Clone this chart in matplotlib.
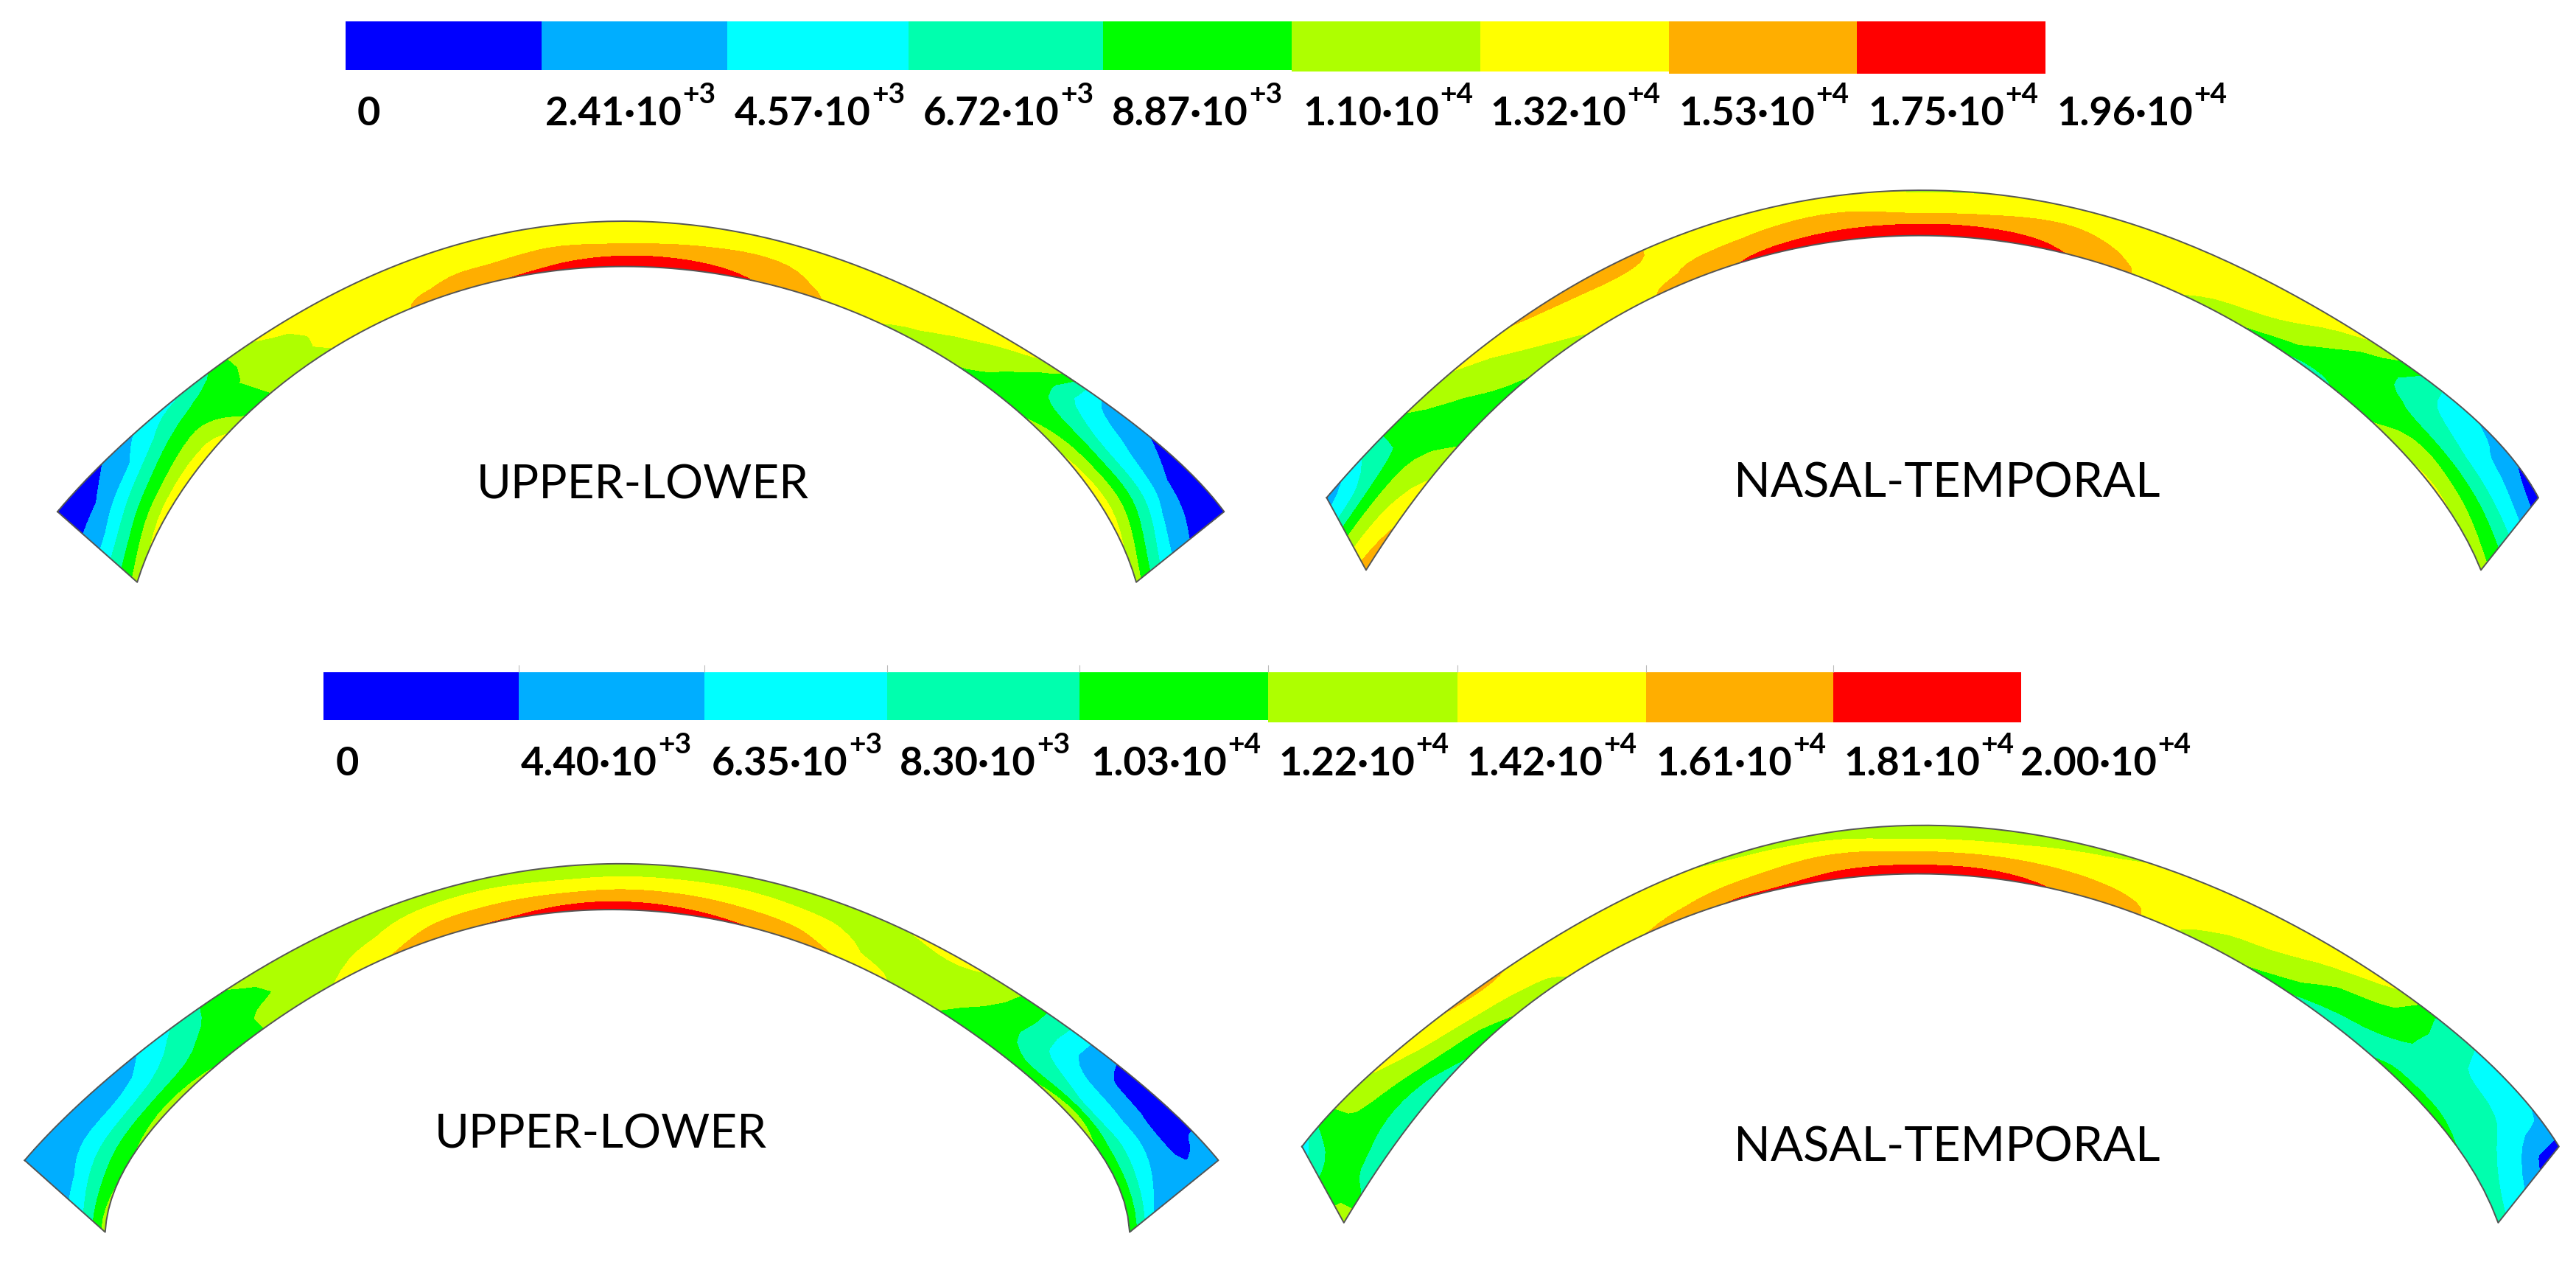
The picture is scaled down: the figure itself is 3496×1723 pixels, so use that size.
import numpy as np
import matplotlib
matplotlib.use('Agg')
import matplotlib.pyplot as plt

plt.rcParams['font.family'] = ['Lato', 'DejaVu Sans']

band_colors = ['#0000FF', '#00AEFF', '#00FFFF', '#00FFAE', '#00FF00',
               '#AEFF00', '#FFFF00', '#FFAE00', '#FF0000']

# stress levels (in thousands) and their labels
top_levels = [0, 2.41, 4.57, 6.72, 8.87, 11.0, 13.2, 15.3, 17.5, 19.6]
bot_levels = [0, 4.40, 6.35, 8.30, 10.3, 12.2, 14.2, 16.1, 18.1, 20.0]
top_mant = ['0', '2.41', '4.57', '6.72', '8.87', '1.10', '1.32', '1.53', '1.75', '1.96']
bot_mant = ['0', '4.40', '6.35', '8.30', '1.03', '1.22', '1.42', '1.61', '1.81', '2.00']
top_exp = ['', '+3', '+3', '+3', '+3', '+4', '+4', '+4', '+4', '+4']
bot_exp = ['', '+3', '+3', '+3', '+4', '+4', '+4', '+4', '+4', '+4']

# colour bar cells and label positions, pixels
top_edges = [469, 735, 987, 1233, 1497, 1753, 2009, 2265, 2520, 2776]
bot_edges = [439, 704, 956, 1204, 1465, 1721, 1978, 2234, 2488, 2743]
top_cell_bottom = [96, 96, 96, 96, 96, 98, 98, 101, 101]
bot_cell_bottom = [978, 978, 978, 978, 978, 981, 981, 981, 981]
top_label_x = [485, 740, 997, 1253, 1509, 1768, 2022, 2278, 2535, 2791]
bot_label_x = [456, 707, 966, 1221, 1480, 1735, 1990, 2247, 2502, 2742]

# shell outlines, stations run left to right
ul1_outer = [(70,1247),(120,1075),(180,900),(235,770),(310,600),(370,480),(430,375),
             (500,290),(560,225),(640,180),(760,145),(860,165),(950,220),(1040,300),
             (1130,430),(1200,555),(1280,690),(1340,820),(1400,960),(1450,1110),(1490,1247)]
ul1_inner = [(167,1515),(205,1250),(262,1000),(305,865),(390,660),(450,540),(520,450),
             (580,395),(640,350),(700,320),(760,312),(830,325),(910,370),(990,430),
             (1070,520),(1130,640),(1190,745),(1250,885),(1300,1060),(1345,1250),(1383,1515)]
ul1_stress = [[1.0, 1.8, 4.0, 8.0, 12.0],
              [2.2, 3.5, 7.0, 10.5, 14.5],
              [5.5, 7.5, 10.0, 12.0, 14.5],
              [7.5, 9.5, 10.5, 10.5, 10.7],
              [13.3, 12.5, 12.5, 12.9, 12.9],
              [14.0, 14.0, 14.0, 14.0, 13.8],
              [14.0, 14.2, 14.5, 15.0, 15.8],
              [14.0, 14.3, 15.0, 15.6, 16.8],
              [13.8, 14.3, 15.0, 16.0, 17.8],
              [13.8, 14.5, 15.4, 17.0, 18.5],
              [13.2, 14.2, 15.3, 17.4, 18.8],
              [13.6, 14.5, 15.5, 17.3, 18.7],
              [13.9, 14.6, 15.6, 16.6, 17.6],
              [14.0, 14.2, 14.6, 15.0, 15.6],
              [15.0, 14.2, 14.0, 13.8, 13.3],
              [14.4, 13.8, 13.1, 12.6, 11.5],
              [12.5, 11.3, 10.9, 10.8, 10.8],
              [4.6, 6.0, 8.0, 10.0, 11.0],
              [2.4, 4.0, 6.2, 10.0, 13.5],
              [1.0, 2.3, 5.5, 10.0, 14.5],
              [0.8, 1.6, 3.0, 7.0, 12.0]]

nt1_outer = [(47,1250),(100,1060),(145,930),(200,770),(270,600),(345,450),(400,350),
             (475,255),(560,170),(650,110),(750,80),(850,100),(960,150),(1060,240),
             (1190,420),(1260,550),(1330,680),(1420,880),(1480,1060),(1505,1170),(1522,1250)]
nt1_inner = [(95,1525),(160,1240),(220,1000),(290,800),(360,640),(420,530),(480,445),
             (550,350),(600,310),(680,270),(755,258),(830,265),(920,305),(1005,370),
             (1100,490),(1160,600),(1230,740),(1290,880),(1350,1050),(1395,1220),(1452,1525)]
nt1_stress = [[3.3, 6.0, 10.5, 14.0, 16.5],
              [7.5, 8.2, 10.5, 12.5, 14.0],
              [11.0, 10.5, 10.2, 10.2, 10.4],
              [13.2, 12.5, 12.0, 11.5, 10.9],
              [15.3, 14.5, 14.0, 13.5, 13.0],
              [16.0, 15.3, 14.5, 14.3, 14.4],
              [16.2, 15.3, 14.6, 15.0, 16.2],
              [14.0, 14.2, 15.0, 16.5, 17.5],
              [14.0, 14.5, 15.5, 17.0, 18.3],
              [13.6, 14.6, 16.0, 17.4, 19.0],
              [13.0, 14.2, 15.3, 17.5, 19.0],
              [13.1, 14.3, 15.4, 17.5, 19.0],
              [14.0, 14.7, 15.8, 17.0, 18.0],
              [14.0, 14.2, 14.7, 15.3, 16.0],
              [15.3, 14.5, 14.0, 13.5, 12.8],
              [14.5, 14.0, 13.3, 12.5, 11.0],
              [12.5, 11.0, 10.5, 10.2, 8.5],
              [5.8, 7.2, 8.9, 10.0, 9.5],
              [3.8, 5.3, 7.5, 10.9, 12.5],
              [1.8, 4.5, 7.0, 10.5, 13.5],
              [1.0, 3.6, 6.5, 9.5, 12.0]]

ul2_outer = [(30,1275),(75,1130),(130,960),(225,740),(275,625),(330,530),(410,390),
             (490,285),(580,210),(680,160),(750,150),(830,165),(930,215),(1030,300),
             (1110,400),(1190,555),(1270,715),(1360,905),(1430,1100),(1460,1190),(1483,1275)]
ul2_inner = [(128,1548),(150,1300),(210,1080),(300,830),(360,690),(420,570),(480,490),
             (550,415),(625,360),(700,328),(755,320),(810,335),(880,370),(960,430),
             (1040,525),(1100,620),(1165,760),(1240,930),(1300,1090),(1335,1230),(1375,1548)]
ul2_stress = [[5.0, 5.4, 5.8, 8.5, 13.0],
              [4.8, 5.5, 7.2, 10.0, 12.0],
              [5.0, 6.0, 8.0, 10.5, 13.0],
              [9.0, 10.2, 11.0, 11.4, 11.8],
              [12.2, 11.8, 11.9, 13.0, 13.4],
              [13.2, 13.2, 13.3, 13.8, 14.5],
              [13.2, 13.4, 14.0, 15.0, 16.2],
              [13.4, 14.0, 15.1, 16.5, 17.8],
              [13.3, 14.2, 15.4, 17.0, 18.3],
              [13.2, 13.9, 15.3, 17.5, 19.0],
              [13.2, 14.0, 15.6, 17.6, 19.2],
              [13.2, 14.0, 15.5, 17.4, 19.0],
              [13.2, 14.0, 15.2, 16.8, 18.4],
              [13.2, 13.6, 14.7, 16.0, 17.3],
              [14.2, 13.5, 13.5, 14.0, 15.4],
              [14.4, 13.6, 13.2, 13.2, 13.6],
              [10.5, 11.2, 11.5, 11.6, 11.6],
              [4.4, 5.4, 7.2, 9.5, 11.3],
              [3.0, 3.8, 6.0, 8.0, 14.0],
              [5.0, 3.5, 5.6, 8.2, 12.0],
              [5.2, 5.2, 4.6, 6.5, 12.0]]

nt2_outer = [(17,1218),(45,1120),(100,960),(170,790),(240,640),(330,470),(380,385),
             (470,260),(540,180),(650,110),(760,85),(880,100),(1000,170),(1100,270),
             (1200,390),(1280,530),(1350,670),(1400,760),(1470,930),(1520,1130),(1547,1218)]
nt2_inner = [(68,1488),(100,1340),(160,1100),(235,850),(310,680),(400,520),(460,430),
             (540,350),(600,305),(680,265),(765,255),(860,272),(960,320),(1030,385),
             (1100,480),(1170,590),(1230,700),(1290,820),(1340,950),(1410,1170),(1473,1488)]
nt2_stress = [[7.3, 9.0, 11.0, 12.0, 13.5],
              [11.5, 11.5, 11.3, 10.6, 9.0],
              [14.2, 13.0, 11.5, 9.8, 8.7],
              [15.8, 14.8, 13.5, 11.8, 10.8],
              [16.4, 15.5, 14.6, 13.8, 13.3],
              [14.8, 14.6, 14.6, 15.0, 15.5],
              [14.6, 14.7, 15.0, 15.6, 16.5],
              [14.3, 14.8, 15.5, 16.5, 18.2],
              [13.8, 14.8, 15.8, 17.0, 18.4],
              [13.4, 14.6, 16.3, 17.7, 19.0],
              [13.0, 14.0, 15.8, 17.7, 19.2],
              [13.0, 14.1, 15.7, 17.5, 19.0],
              [13.6, 14.8, 15.6, 16.6, 17.6],
              [14.8, 15.1, 15.4, 15.8, 16.4],
              [15.0, 15.0, 14.6, 14.2, 13.4],
              [15.0, 14.6, 14.0, 13.5, 12.0],
              [14.2, 13.3, 11.8, 11.2, 10.0],
              [10.2, 11.0, 11.0, 10.2, 9.3],
              [7.5, 8.3, 9.2, 9.5, 10.8],
              [6.0, 7.3, 8.5, 9.5, 10.5],
              [4.0, 3.8, 5.9, 7.5, 9.0]]

fig = plt.figure(figsize=(34.96, 17.24), dpi=100)
ax = fig.add_axes([0, 0, 1, 1])
ax.set_xlim(0, 3496)
ax.set_ylim(1724, 0)
ax.axis('off')

N_SUB = 6


def smooth(a):
    # drawing mesh only: rounds the contour bands between the stations read by eye
    p = np.r_[[a[0]], a, [a[-1]]]
    u = np.arange(N_SUB) / N_SUB
    out = []
    for i in range(1, len(p) - 2):
        out.append(0.5 * (2 * p[i] + (p[i + 1] - p[i - 1]) * u
                          + (2 * p[i - 1] - 5 * p[i] + 4 * p[i + 1] - p[i + 2]) * u ** 2
                          + (3 * p[i] - p[i - 1] - 3 * p[i + 1] + p[i + 2]) * u ** 3))
    out.append([a[-1]])
    return np.concatenate(out)


def fit_curve(x, y):
    # evens out the hand-read outline, the ends stay on the corners
    s = np.r_[0, np.cumsum(np.hypot(np.diff(x), np.diff(y)))]
    s = s / s[-1]
    fine = np.interp(np.arange(len(s) * N_SUB - N_SUB + 1) / N_SUB, np.arange(len(s)), s)
    w = np.ones(len(s))
    w[[0, -1]] = 40
    return (np.polyval(np.polyfit(s, x, 7, w=w), fine),
            np.polyval(np.polyfit(s, y, 7, w=w), fine))


def draw_shell(outer, inner, stress, levels, x0, y0, yscale):
    # outlines were read at 1.115 px per unit across, yscale px per unit down
    outer = np.array(outer, dtype=float)
    inner = np.array(inner, dtype=float)
    stress = np.array(stress)
    xo, yo = fit_curve(x0 + outer[:, 0] * 1.115, y0 + outer[:, 1] * yscale)
    xi, yi = fit_curve(x0 + inner[:, 0] * 1.115, y0 + inner[:, 1] * yscale)
    Z = np.column_stack([smooth(stress[:, j]) for j in range(stress.shape[1])])
    Z = np.clip(Z, levels[0], levels[-1])
    t = np.linspace(0, 1, stress.shape[1])[None, :]
    X = xo[:, None] * (1 - t) + xi[:, None] * t
    Y = yo[:, None] * (1 - t) + yi[:, None] * t
    ax.contourf(X, Y, Z, levels=levels, colors=band_colors)
    ax.plot(np.r_[xo, xi[::-1], xo[0]], np.r_[yo, yi[::-1], yo[0]], color='#555555', lw=1.4)


def draw_colorbar(edges, y_top, cell_bottom, mant, exp, label_x, label_y):
    edges = np.array(edges)
    ax.bar(edges[:-1], np.array(cell_bottom) - y_top, width=np.diff(edges), bottom=y_top,
           align='edge', color=band_colors, lw=0)
    for m, e, x in zip(mant, exp, label_x):
        t = ax.text(x, label_y, m + ('·10' if e else ''), fontsize=39, fontweight='bold',
                    ha='left', va='baseline', color='black')
        if e:
            ax.annotate(e, xy=(1, 0), xycoords=t, xytext=(1, 28), textcoords='offset points',
                        fontsize=28, fontweight='bold', ha='left', va='baseline', color='black')


draw_colorbar(top_edges, 30, top_cell_bottom, top_mant, top_exp, top_label_x, 170)
draw_colorbar(bot_edges, 913, bot_cell_bottom, bot_mant, bot_exp, bot_label_x, 1052)
ax.vlines(bot_edges[1:-1], 903, 913, color='#bbbbbb', lw=0.8)

draw_shell(ul1_outer, ul1_inner, ul1_stress, top_levels, 0, 250, 0.357)
draw_shell(nt1_outer, nt1_inner, nt1_stress, top_levels, 1748, 230, 0.357)
draw_shell(ul2_outer, ul2_inner, ul2_stress, bot_levels, 0, 1120, 0.357)
draw_shell(nt2_outer, nt2_inner, nt2_stress, bot_levels, 1748, 1090, 0.383)

ax.text(872, 677, 'UPPER-LOWER', fontsize=46, ha='center', va='baseline', color='black')
ax.text(2642, 675, 'NASAL-TEMPORAL', fontsize=47, ha='center', va='baseline', color='black')
ax.text(815, 1558, 'UPPER-LOWER', fontsize=46, ha='center', va='baseline', color='black')
ax.text(2642, 1576, 'NASAL-TEMPORAL', fontsize=47, ha='center', va='baseline', color='black')

fig.savefig('out.png', dpi=100, facecolor='white')
